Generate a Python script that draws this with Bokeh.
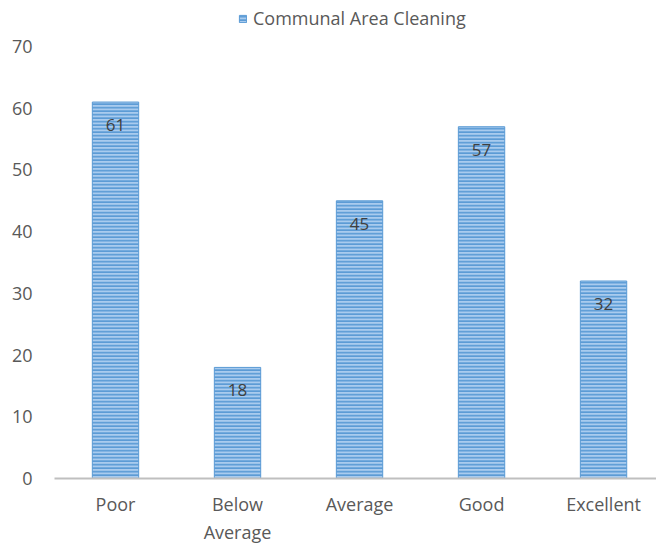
from bokeh.plotting import figure
from bokeh.models import Range1d, FixedTicker, ColumnDataSource, Legend, LegendItem
from bokeh.core.properties import value
from bokeh.embed import file_html
from bokeh.resources import INLINE

categories = ["Poor", "Below\nAverage", "Average", "Good", "Excellent"]
counts = [61, 18, 45, 57, 32]
series_name = "Communal Area Cleaning"
y_ticks = [0, 10, 20, 30, 40, 50, 60, 70]

xs = list(range(len(categories)))
src = ColumnDataSource(dict(x=xs, top=counts, label=[str(c) for c in counts]))

FONT = "Open Sans"
TXT = "#595959"

# frame extends to the top of the canvas so the legend (drawn inside it) is not clipped;
# the axis still shows 0..70 ticks only
y_top = 70 + 70 * 46 / 432

p = figure(width=656, height=547, output_backend="svg", toolbar_location=None,
           x_range=Range1d(-0.5, 4.434), y_range=Range1d(0, y_top),
           min_border_left=54, min_border_right=0, min_border_top=0, min_border_bottom=69)
p.outline_line_color = None
p.xgrid.grid_line_color = None
p.ygrid.grid_line_color = None

r = p.vbar(x="x", top="top", width=0.38, source=src,
           fill_color="#A9CBEE", line_color="#5B9BD5", line_width=1,
           hatch_pattern="horizontal_line", hatch_color="#5B9BD5",
           hatch_scale=3.5, hatch_weight=1.8)

p.text(x="x", y="top", text="label", source=src, y_offset=23,
       text_align="center", text_baseline="middle",
       text_font=value(FONT), text_font_size="17px", text_color="#404040")

p.xaxis.ticker = FixedTicker(ticks=xs)
p.xaxis.major_label_overrides = {i: c for i, c in zip(xs, categories)}
p.xaxis.axis_line_color = "#BFBFBF"
p.xaxis.axis_line_width = 2
p.xaxis.major_tick_line_color = None
p.xaxis.minor_tick_line_color = None
p.xaxis.major_label_standoff = 7
p.xaxis.major_label_text_font = FONT
p.xaxis.major_label_text_font_size = "18px"
p.xaxis.major_label_text_color = TXT

p.yaxis.ticker = FixedTicker(ticks=y_ticks)
p.yaxis.axis_line_color = None
p.yaxis.major_tick_line_color = None
p.yaxis.minor_tick_line_color = None
p.yaxis.major_label_standoff = 16
p.yaxis.major_label_text_font = FONT
p.yaxis.major_label_text_font_size = "18px"
p.yaxis.major_label_text_color = TXT

legend = Legend(items=[LegendItem(label=series_name, renderers=[r])],
                orientation="horizontal", location=(184, 448),
                glyph_width=9, glyph_height=9, label_standoff=6, label_height=18,
                label_text_font=FONT, label_text_font_size="18px", label_text_color=TXT,
                border_line_color=None, background_fill_alpha=0, padding=0, margin=0)
p.add_layout(legend, "center")

open("out.html", "w").write(file_html(p, INLINE))
